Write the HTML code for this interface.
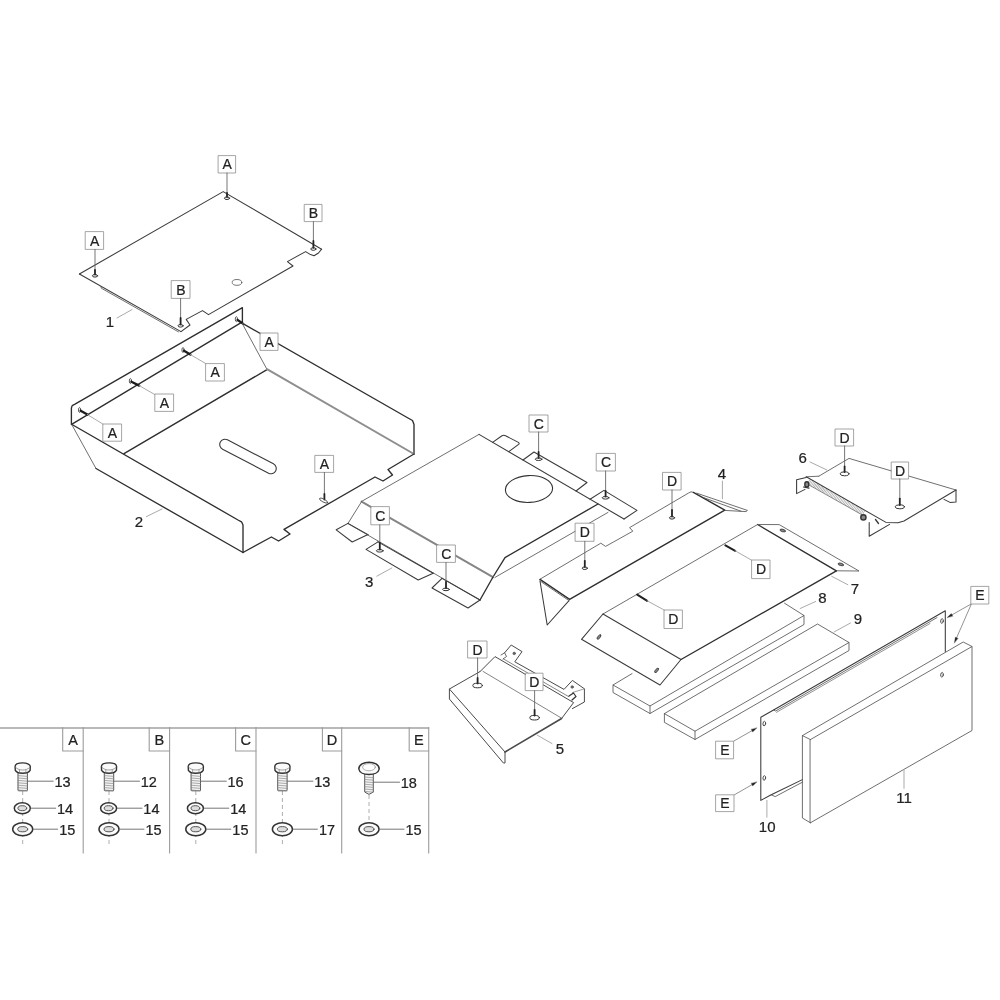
<!DOCTYPE html>
<html><head><meta charset="utf-8"><title>Parts diagram</title>
<style>
html,body{margin:0;padding:0;background:#fff;}
body{width:1000px;height:1000px;overflow:hidden;}
svg{display:block;filter:blur(0.35px);font-family:"Liberation Sans",sans-serif;fill:#222;}
svg text{fill:#222;stroke:#222;stroke-width:0.22px;}
</style></head><body>
<svg width="1000" height="1000" viewBox="0 0 1000 1000" stroke-linejoin="round" stroke-linecap="round">
<rect x="0" y="0" width="1000" height="1000" fill="#fff" stroke="none"/>
<path d="M79.4,274.0 L223.2,191.6 L321.6,249.2" fill="none" stroke="#3a3a3a" stroke-width="1.05" />
<path d="M321.6,249.2 L318.5,253.0 L314.0,255.8 L310.5,254.6 L305.6,251.6 L287.4,261.6 L293.0,266.0 L208.5,314.6 L202.5,310.6 L186.2,319.4 L190.0,325.0 L181.0,331.6" fill="none" stroke="#3a3a3a" stroke-width="1.05" />
<path d="M79.4,274.0 L181.0,331.6" fill="none" stroke="#3a3a3a" stroke-width="1.05" />
<path d="M101.0,286.4 L101.3,288.2 L178.5,331.9" fill="none" stroke="#555" stroke-width="0.85" />
<ellipse cx="237.0" cy="282.4" rx="4.8" ry="2.9" transform="rotate(0 237.0 282.4)" fill="none" stroke="#555" stroke-width="0.8"/>
<rect x="218.5" y="155.6" width="17.1" height="17.4" fill="#fff" stroke="#8e8e8e" stroke-width="0.8"/>
<text x="227.1" y="169.3" font-size="14" text-anchor="middle">A</text>
<path d="M227.0,173.0 L227.0,193.0" fill="none" stroke="#666" stroke-width="0.9" />
<path d="M227.0,193.0 L227.0,197.0" fill="none" stroke="#222" stroke-width="1.8" />
<ellipse cx="227.0" cy="198.2" rx="2.6" ry="1.3" transform="rotate(0 227.0 198.2)" fill="none" stroke="#333" stroke-width="1.0"/>
<rect x="85.6" y="231.6" width="18.0" height="17.8" fill="#fff" stroke="#8e8e8e" stroke-width="0.8"/>
<text x="94.6" y="245.5" font-size="14" text-anchor="middle">A</text>
<path d="M95.0,249.4 L95.0,270.0" fill="none" stroke="#666" stroke-width="0.9" />
<path d="M95.0,270.0 L95.0,274.6" fill="none" stroke="#222" stroke-width="1.8" />
<ellipse cx="95.0" cy="275.8" rx="2.6" ry="1.3" transform="rotate(0 95.0 275.8)" fill="none" stroke="#333" stroke-width="1.0"/>
<rect x="171.6" y="280.6" width="18.4" height="17.8" fill="#fff" stroke="#8e8e8e" stroke-width="0.8"/>
<text x="180.8" y="294.5" font-size="14" text-anchor="middle">B</text>
<path d="M180.6,298.4 L180.6,318.0" fill="none" stroke="#666" stroke-width="0.9" />
<path d="M180.6,318.0 L180.6,324.6" fill="none" stroke="#222" stroke-width="1.8" />
<ellipse cx="180.6" cy="325.8" rx="2.6" ry="1.3" transform="rotate(0 180.6 325.8)" fill="none" stroke="#333" stroke-width="1.0"/>
<rect x="304.6" y="204.4" width="17.4" height="17.2" fill="#fff" stroke="#8e8e8e" stroke-width="0.8"/>
<text x="313.3" y="218.0" font-size="14" text-anchor="middle">B</text>
<path d="M313.4,221.6 L313.4,241.0" fill="none" stroke="#666" stroke-width="0.9" />
<path d="M313.4,241.0 L313.4,247.8" fill="none" stroke="#222" stroke-width="1.8" />
<ellipse cx="313.4" cy="249.0" rx="2.6" ry="1.3" transform="rotate(0 313.4 249.0)" fill="none" stroke="#333" stroke-width="1.0"/>
<text x="110.0" y="327.4" font-size="15" text-anchor="middle">1</text>
<path d="M117.0,318.0 L132.0,309.6" fill="none" stroke="#ababab" stroke-width="1.0" />
<path d="M242.4,321.6 L242.4,307.6 L75.0,404.2 L72.2,405.6 L71.4,408.0 L71.4,424.5" fill="none" stroke="#2e2e2e" stroke-width="1.35" />
<path d="M242.4,321.8 L72.0,424.2" fill="none" stroke="#2e2e2e" stroke-width="1.35" />
<path d="M267.0,369.6 L124.0,453.6" fill="none" stroke="#2e2e2e" stroke-width="1.35" />
<path d="M72.0,424.5 L238.0,520.0 L241.5,521.8 L243.0,525.0 L243.0,552.5" fill="none" stroke="#2e2e2e" stroke-width="1.35" />
<path d="M72.0,425.0 L96.0,468.5" fill="none" stroke="#555" stroke-width="0.85" />
<path d="M96.0,468.5 L243.0,552.5" fill="none" stroke="#2e2e2e" stroke-width="1.35" />
<path d="M243.0,323.6 L408.0,418.0 L412.5,420.5 L414.0,424.5 L414.0,454.0" fill="none" stroke="#2e2e2e" stroke-width="1.35" />
<path d="M243.0,325.0 L267.0,369.4" fill="none" stroke="#555" stroke-width="0.85" />
<path d="M267.0,369.2 L414.0,454.0" fill="none" stroke="#8e8e8e" stroke-width="2.0" />
<path d="M414.0,454.0 L388.0,469.5 L392.5,475.0 L383.0,481.0 L375.0,477.0 L284.0,529.4 L290.0,534.0 L278.6,541.0 L271.4,537.0 L243.0,552.5" fill="none" stroke="#2e2e2e" stroke-width="1.35" />
<path d="M225,444.5 L271,468.5" stroke="#3a3a3a" stroke-width="11.6" stroke-linecap="round" fill="none"/>
<path d="M225,444.5 L271,468.5" stroke="#fff" stroke-width="9.4" stroke-linecap="round" fill="none"/>
<ellipse cx="236.4" cy="319.2" rx="1.1" ry="2.5" transform="rotate(0 236.4 319.2)" fill="none" stroke="#333" stroke-width="0.8"/>
<path d="M237.6,320.0 L243.0,323.6" fill="none" stroke="#1c1c1c" stroke-width="2.3" />
<path d="M243.0,323.6 L243.0,323.6" fill="none" stroke="#ababab" stroke-width="1.0" />
<ellipse cx="183.0" cy="350.0" rx="1.1" ry="2.5" transform="rotate(0 183.0 350.0)" fill="none" stroke="#333" stroke-width="0.8"/>
<path d="M184.0,350.8 L190.4,354.6" fill="none" stroke="#1c1c1c" stroke-width="2.3" />
<path d="M190.4,354.6 L206.5,364.0" fill="none" stroke="#ababab" stroke-width="1.0" />
<ellipse cx="130.4" cy="381.0" rx="1.1" ry="2.5" transform="rotate(0 130.4 381.0)" fill="none" stroke="#333" stroke-width="0.8"/>
<path d="M131.4,381.8 L139.2,385.6" fill="none" stroke="#1c1c1c" stroke-width="2.3" />
<path d="M139.2,385.6 L155.6,395.0" fill="none" stroke="#ababab" stroke-width="1.0" />
<ellipse cx="79.6" cy="410.0" rx="1.1" ry="2.5" transform="rotate(0 79.6 410.0)" fill="none" stroke="#333" stroke-width="0.8"/>
<path d="M80.6,410.8 L87.4,414.6" fill="none" stroke="#1c1c1c" stroke-width="2.3" />
<path d="M87.4,414.6 L103.8,424.6" fill="none" stroke="#ababab" stroke-width="1.0" />
<rect x="260.4" y="333.0" width="17.6" height="17.4" fill="#fff" stroke="#8e8e8e" stroke-width="0.8"/>
<text x="269.2" y="346.7" font-size="14" text-anchor="middle">A</text>
<rect x="206.0" y="363.6" width="18.4" height="17.4" fill="#fff" stroke="#8e8e8e" stroke-width="0.8"/>
<text x="215.2" y="377.3" font-size="14" text-anchor="middle">A</text>
<rect x="155.2" y="394.0" width="18.4" height="17.4" fill="#fff" stroke="#8e8e8e" stroke-width="0.8"/>
<text x="164.4" y="407.7" font-size="14" text-anchor="middle">A</text>
<rect x="103.2" y="424.0" width="18.4" height="17.2" fill="#fff" stroke="#8e8e8e" stroke-width="0.8"/>
<text x="112.4" y="437.6" font-size="14" text-anchor="middle">A</text>
<rect x="315.2" y="455.4" width="18.4" height="17.0" fill="#fff" stroke="#8e8e8e" stroke-width="0.8"/>
<text x="324.4" y="468.9" font-size="14" text-anchor="middle">A</text>
<path d="M324.4,472.4 L324.4,494.0" fill="none" stroke="#666" stroke-width="0.9" />
<path d="M324.4,494.0 L324.4,499.5" fill="none" stroke="#222" stroke-width="1.8" />
<ellipse cx="323.6" cy="500.6" rx="4.6" ry="1.5" transform="rotate(28 323.6 500.6)" fill="none" stroke="#444" stroke-width="0.8"/>
<text x="139.0" y="527.4" font-size="15" text-anchor="middle">2</text>
<path d="M146.4,516.6 L162.0,509.0" fill="none" stroke="#ababab" stroke-width="1.0" />
<path d="M361.6,501.4 L479.0,434.4" fill="none" stroke="#555" stroke-width="0.85" />
<path d="M479.0,434.4 L624.0,519.0" fill="none" stroke="#3a3a3a" stroke-width="1.05" />
<path d="M492.6,442.4 L501.6,436 Q503.6,434.8 505.6,435.8 L518.4,442.4 Q519.8,443.4 518.6,444.4 L508.8,451.6" fill="none" stroke="#3a3a3a" stroke-width="1.05"/>
<path d="M523.0,460.0 L534.0,452.0 L587.0,482.5 L576.0,491.0" fill="none" stroke="#3a3a3a" stroke-width="1.05" />
<path d="M590.0,499.2 L604.0,490.4 L637.0,510.4 L624.0,519.0" fill="none" stroke="#3a3a3a" stroke-width="1.05" />
<path d="M598.0,504.0 L505.0,557.6 L493.0,577.0" fill="none" stroke="#2e2e2e" stroke-width="1.35" />
<path d="M608.0,512.4 L495.0,577.4" fill="none" stroke="#555" stroke-width="0.85" />
<path d="M361.6,501.6 L493.0,577.2" fill="none" stroke="#858585" stroke-width="2.0" />
<path d="M361.6,501.6 L348.0,523.4" fill="none" stroke="#555" stroke-width="0.85" />
<path d="M493.0,577.0 L480.0,600.0" fill="none" stroke="#2e2e2e" stroke-width="1.35" />
<path d="M348.0,523.6 L480.0,600.0" fill="none" stroke="#555" stroke-width="0.85" />
<path d="M348.0,523.4 L336.2,529.8 L352.2,542.0 L368.0,534.6" fill="none" stroke="#3a3a3a" stroke-width="1.05" />
<path d="M348.0,523.4 L368.0,534.6" fill="none" stroke="#3a3a3a" stroke-width="1.05" />
<path d="M378.0,541.9 L366.0,549.4 L418.2,580.0 L433.2,573.3" fill="none" stroke="#3a3a3a" stroke-width="1.05" />
<path d="M378.0,541.9 L433.2,573.3" fill="none" stroke="#3a3a3a" stroke-width="1.05" />
<path d="M442.0,578.4 L432.0,588.0 L468.0,608.0 L480.0,600.0" fill="none" stroke="#3a3a3a" stroke-width="1.05" />
<path d="M442.0,578.4 L480.0,600.0" fill="none" stroke="#3a3a3a" stroke-width="1.05" />
<ellipse cx="529.0" cy="489.0" rx="23.6" ry="13.4" transform="rotate(-3 529.0 489.0)" fill="none" stroke="#333" stroke-width="1.1"/>
<rect x="371.2" y="506.6" width="18.2" height="18.2" fill="#fff" stroke="#8e8e8e" stroke-width="0.8"/>
<text x="380.3" y="520.7" font-size="14" text-anchor="middle">C</text>
<path d="M379.8,524.8 L379.8,542.8" fill="none" stroke="#666" stroke-width="0.9" />
<path d="M379.8,542.8 L379.8,549.6" fill="none" stroke="#222" stroke-width="1.8" />
<ellipse cx="379.8" cy="550.8" rx="3.4" ry="1.3" transform="rotate(0 379.8 550.8)" fill="none" stroke="#333" stroke-width="1.0"/>
<rect x="437.0" y="545.0" width="18.4" height="17.4" fill="#fff" stroke="#8e8e8e" stroke-width="0.8"/>
<text x="446.2" y="558.7" font-size="14" text-anchor="middle">C</text>
<path d="M446.0,562.4 L446.0,582.0" fill="none" stroke="#666" stroke-width="0.9" />
<path d="M446.0,582.0 L446.0,588.2" fill="none" stroke="#222" stroke-width="1.8" />
<ellipse cx="446.0" cy="589.4" rx="3.4" ry="1.3" transform="rotate(0 446.0 589.4)" fill="none" stroke="#333" stroke-width="1.0"/>
<rect x="529.4" y="415.0" width="18.6" height="17.0" fill="#fff" stroke="#8e8e8e" stroke-width="0.8"/>
<text x="538.7" y="428.5" font-size="14" text-anchor="middle">C</text>
<path d="M538.6,432.0 L538.6,452.0" fill="none" stroke="#666" stroke-width="0.9" />
<path d="M538.6,452.0 L538.6,458.0" fill="none" stroke="#222" stroke-width="1.8" />
<ellipse cx="538.6" cy="459.2" rx="3.4" ry="1.3" transform="rotate(0 538.6 459.2)" fill="none" stroke="#333" stroke-width="1.0"/>
<rect x="596.6" y="453.4" width="18.8" height="17.6" fill="#fff" stroke="#8e8e8e" stroke-width="0.8"/>
<text x="606.0" y="467.2" font-size="14" text-anchor="middle">C</text>
<path d="M605.6,471.0 L605.6,491.0" fill="none" stroke="#666" stroke-width="0.9" />
<path d="M605.6,491.0 L605.6,496.6" fill="none" stroke="#222" stroke-width="1.8" />
<ellipse cx="605.6" cy="497.8" rx="3.4" ry="1.3" transform="rotate(0 605.6 497.8)" fill="none" stroke="#333" stroke-width="1.0"/>
<text x="369.2" y="587.2" font-size="15" text-anchor="middle">3</text>
<path d="M376.8,576.2 L391.8,568.0" fill="none" stroke="#ababab" stroke-width="1.0" />
<path d="M540.0,579.2 L600.8,543.2 L605.6,546.4 L632.8,531.2 L629.6,527.6 L688.6,493.0 L691.0,491.8 L693.4,492.4" fill="none" stroke="#555" stroke-width="0.85" />
<path d="M693.4,492.4 L724.8,510.2 L569.6,599.4 L540.0,579.4" fill="none" stroke="#2e2e2e" stroke-width="1.35" />
<path d="M540.0,581.0 L547.2,625.0 L569.0,600.6" fill="none" stroke="#3a3a3a" stroke-width="1.05" />
<path d="M540.0,581.0 L569.0,600.6" fill="none" stroke="#555" stroke-width="0.85" />
<path d="M696.8,493.2 L747.4,510.4 L746.0,511.6 L724.8,510.4" fill="none" stroke="#555" stroke-width="0.85" />
<path d="M703.0,497.4 L741.0,511.2" fill="none" stroke="#555" stroke-width="0.85" />
<rect x="575.5" y="523.2" width="18.5" height="18.1" fill="#fff" stroke="#8e8e8e" stroke-width="0.8"/>
<text x="584.8" y="537.3" font-size="14" text-anchor="middle">D</text>
<path d="M584.8,541.3 L584.8,560.8" fill="none" stroke="#666" stroke-width="0.9" />
<path d="M584.8,560.8 L584.8,567.0" fill="none" stroke="#222" stroke-width="1.8" />
<ellipse cx="584.8" cy="568.2" rx="2.6" ry="1.3" transform="rotate(0 584.8 568.2)" fill="none" stroke="#333" stroke-width="1.0"/>
<rect x="662.9" y="472.4" width="18.2" height="17.6" fill="#fff" stroke="#8e8e8e" stroke-width="0.8"/>
<text x="672.0" y="486.2" font-size="14" text-anchor="middle">D</text>
<path d="M672.0,490.0 L672.0,510.0" fill="none" stroke="#666" stroke-width="0.9" />
<path d="M672.0,510.0 L672.0,516.6" fill="none" stroke="#222" stroke-width="1.8" />
<ellipse cx="672.0" cy="517.8" rx="2.6" ry="1.3" transform="rotate(0 672.0 517.8)" fill="none" stroke="#333" stroke-width="1.0"/>
<text x="722.0" y="479.4" font-size="15" text-anchor="middle">4</text>
<path d="M722.4,481.0 L722.4,498.8" fill="none" stroke="#ababab" stroke-width="1.0" />
<path d="M603.0,614.0 L757.6,524.5" fill="none" stroke="#555" stroke-width="0.85" />
<path d="M757.6,524.5 L836.4,570.8" fill="none" stroke="#2e2e2e" stroke-width="1.35" />
<path d="M836.4,570.8 L681.0,659.5" fill="none" stroke="#2e2e2e" stroke-width="1.35" />
<path d="M603.0,614.0 L681.0,659.5" fill="none" stroke="#3a3a3a" stroke-width="1.05" />
<path d="M603.0,614.0 L581.5,639.3 L660.0,685.0 L681.0,659.5" fill="none" stroke="#3a3a3a" stroke-width="1.05" />
<path d="M757.6,524.5 L779.2,524.6 L859.0,571.0 L836.4,570.8" fill="none" stroke="#555" stroke-width="0.85" />
<ellipse cx="599.0" cy="637.0" rx="2.7" ry="1.2" transform="rotate(-50 599.0 637.0)" fill="#888" stroke="#444" stroke-width="0.9"/>
<ellipse cx="656.6" cy="670.4" rx="2.7" ry="1.2" transform="rotate(-50 656.6 670.4)" fill="#888" stroke="#444" stroke-width="0.9"/>
<ellipse cx="782.7" cy="530.5" rx="2.8" ry="1.2" transform="rotate(15 782.7 530.5)" fill="#888" stroke="#444" stroke-width="0.9"/>
<ellipse cx="840.8" cy="564.4" rx="2.8" ry="1.2" transform="rotate(15 840.8 564.4)" fill="#888" stroke="#444" stroke-width="0.9"/>
<path d="M725.4,545.4 L735.2,550.8" fill="none" stroke="#222" stroke-width="2.1" />
<path d="M735.2,550.8 L752.0,560.4" fill="none" stroke="#ababab" stroke-width="1.0" />
<path d="M637.2,594.6 L647.2,600.8" fill="none" stroke="#222" stroke-width="2.1" />
<path d="M647.2,600.8 L664.8,610.4" fill="none" stroke="#ababab" stroke-width="1.0" />
<rect x="752.0" y="560.0" width="18.0" height="18.6" fill="#fff" stroke="#8e8e8e" stroke-width="0.8"/>
<text x="761.0" y="574.3" font-size="14" text-anchor="middle">D</text>
<rect x="664.4" y="610.0" width="18.0" height="18.5" fill="#fff" stroke="#8e8e8e" stroke-width="0.8"/>
<text x="673.4" y="624.3" font-size="14" text-anchor="middle">D</text>
<text x="855.0" y="594.4" font-size="15" text-anchor="middle">7</text>
<path d="M831.7,576.3 L847.8,584.7" fill="none" stroke="#ababab" stroke-width="1.0" />
<path d="M632.0,673.6 L613.0,685.0 L650.0,706.0 L804.0,615.5 L784.5,603.2" fill="none" stroke="#555" stroke-width="0.85" />
<path d="M613.0,685.0 L613.0,692.5 L650.0,713.5 L804.0,624.5 L804.0,615.5" fill="none" stroke="#555" stroke-width="0.85" />
<path d="M650.0,706.0 L650.0,713.5" fill="none" stroke="#555" stroke-width="0.85" />
<text x="822.3" y="603.1" font-size="15" text-anchor="middle">8</text>
<path d="M800.2,608.5 L815.6,601.5" fill="none" stroke="#ababab" stroke-width="1.0" />
<path d="M664.4,713.6 L695.0,731.2 L849.0,642.5 L817.5,624.0 L664.4,713.6" fill="none" stroke="#555" stroke-width="0.85" />
<path d="M664.4,713.6 L664.4,722.4 L695.0,739.5 L849.0,650.5 L849.0,642.5" fill="none" stroke="#555" stroke-width="0.85" />
<path d="M695.0,731.2 L695.0,739.5" fill="none" stroke="#555" stroke-width="0.85" />
<text x="858.0" y="624.2" font-size="15" text-anchor="middle">9</text>
<path d="M834.0,632.0 L850.5,623.0" fill="none" stroke="#ababab" stroke-width="1.0" />
<path d="M802.4,779.6 L772.8,794.0 L771.2,794.8 L760.8,800.4 L760.8,717.2 L773.6,710.0 L945.3,610.8 L945.3,651.6" fill="none" stroke="#3a3a3a" stroke-width="1.05" />
<path d="M773.6,710.0 L775.6,711.0 L937.0,617.6" fill="none" stroke="#555" stroke-width="0.85" />
<path d="M776.5,712.3 L930.0,623.5" fill="none" stroke="#777" stroke-width="0.8" />
<path d="M771.2,794.8 L775.2,796.6 L802.4,782.2" fill="none" stroke="#555" stroke-width="0.85" />
<ellipse cx="764.3" cy="723.6" rx="1.3" ry="2.3" transform="rotate(8 764.3 723.6)" fill="none" stroke="#444" stroke-width="0.9"/>
<ellipse cx="764.3" cy="778.0" rx="1.3" ry="2.3" transform="rotate(8 764.3 778.0)" fill="none" stroke="#444" stroke-width="0.9"/>
<ellipse cx="942.0" cy="621.0" rx="1.3" ry="2.3" transform="rotate(8 942.0 621.0)" fill="none" stroke="#444" stroke-width="0.9"/>
<ellipse cx="942.0" cy="674.8" rx="1.3" ry="2.3" transform="rotate(8 942.0 674.8)" fill="none" stroke="#444" stroke-width="0.9"/>
<text x="767.2" y="832.2" font-size="15" text-anchor="middle">10</text>
<path d="M766.9,800.4 L766.9,817.2" fill="none" stroke="#ababab" stroke-width="1.0" />
<path d="M810.4,739.6 L972.0,646.5 L972.0,730.5 L810.4,822.8 Z" fill="none" stroke="#555" stroke-width="0.85" />
<path d="M810.4,739.6 L802.4,735.6 L802.4,818.0 L810.4,822.8" fill="none" stroke="#555" stroke-width="0.85" />
<path d="M802.4,735.6 L963.2,642.0 L972.0,646.5" fill="none" stroke="#555" stroke-width="0.85" />
<text x="904.0" y="803.4" font-size="15" text-anchor="middle">11</text>
<path d="M904.0,769.5 L904.0,788.4" fill="none" stroke="#ababab" stroke-width="1.0" />
<path d="M971.2,604.0 L952.0,614.8" fill="none" stroke="#777" stroke-width="0.8" />
<path d="M947.2,617.5 L951.3,613.6 L952.7,616.0 Z" fill="#222" stroke="#222" stroke-width="0.3" />
<path d="M971.2,604.4 L956.6,637.8" fill="none" stroke="#777" stroke-width="0.8" />
<path d="M954.4,642.8 L955.3,637.2 L957.9,638.3 Z" fill="#222" stroke="#222" stroke-width="0.3" />
<rect x="971.2" y="586.4" width="17.6" height="17.6" fill="#fff" stroke="#8e8e8e" stroke-width="0.8"/>
<text x="980.0" y="600.2" font-size="14" text-anchor="middle">E</text>
<path d="M733.6,741.2 L752.0,730.7" fill="none" stroke="#777" stroke-width="0.8" />
<path d="M756.8,728.0 L752.7,731.9 L751.3,729.5 Z" fill="#222" stroke="#222" stroke-width="0.3" />
<path d="M734.4,794.8 L752.0,784.7" fill="none" stroke="#777" stroke-width="0.8" />
<path d="M756.8,782.0 L752.7,785.9 L751.3,783.5 Z" fill="#222" stroke="#222" stroke-width="0.3" />
<rect x="716.0" y="741.2" width="17.6" height="17.6" fill="#fff" stroke="#8e8e8e" stroke-width="0.8"/>
<text x="724.8" y="755.0" font-size="14" text-anchor="middle">E</text>
<rect x="716.0" y="794.8" width="18.0" height="16.8" fill="#fff" stroke="#8e8e8e" stroke-width="0.8"/>
<text x="725.0" y="808.2" font-size="14" text-anchor="middle">E</text>
<path d="M480.0,671.6 L449.4,689.0 L505.0,752.0" fill="none" stroke="#4a4a4a" stroke-width="1.0" />
<path d="M505.0,752.0 L561.6,718.5" fill="none" stroke="#4a4a4a" stroke-width="1.6" />
<path d="M480.0,671.6 L495.0,656.6 L573.6,702.6 L561.6,718.5" fill="none" stroke="#4a4a4a" stroke-width="1.0" />
<path d="M483.0,671.4 L561.6,718.2" fill="none" stroke="#666" stroke-width="0.8" />
<path d="M449.4,689.0 L449.4,699.0 L503.4,763.0 L505.0,763.0 L505.0,752.0" fill="none" stroke="#4a4a4a" stroke-width="1.0" />
<path d="M504.6,652.8 L511.2,645.0 L522.0,651.6 L514.8,661.8 L564.0,689.4 L572.4,680.4 L584.4,688.8 L584.4,702.0 L572.4,708.6" fill="none" stroke="#4a4a4a" stroke-width="1.0" />
<path d="M503.4,658.9 L568.8,696.7" fill="none" stroke="#666" stroke-width="0.8" />
<path d="M572.4,692.6 L584.4,688.8" fill="none" stroke="#777" stroke-width="0.7" />
<path d="M501.0,655.0 L504.6,652.8 L506.5,656.5 L503.0,659.0" fill="none" stroke="#444" stroke-width="0.8" />
<path d="M569.0,696.0 L573.5,693.0 L576.0,696.5 L572.0,700.0" fill="none" stroke="#333" stroke-width="1.2" />
<ellipse cx="514.2" cy="653.4" rx="1.3" ry="1.3" transform="rotate(0 514.2 653.4)" fill="#666" stroke="#555" stroke-width="0.6"/>
<ellipse cx="572.2" cy="687.0" rx="1.3" ry="1.3" transform="rotate(0 572.2 687.0)" fill="#666" stroke="#555" stroke-width="0.6"/>
<rect x="468.0" y="641.0" width="19.0" height="17.0" fill="#fff" stroke="#8e8e8e" stroke-width="0.8"/>
<text x="477.5" y="654.5" font-size="14" text-anchor="middle">D</text>
<path d="M477.6,658.0 L477.6,678.0" fill="none" stroke="#666" stroke-width="0.9" />
<path d="M477.6,678.0 L477.6,683.4" fill="none" stroke="#222" stroke-width="1.8" />
<ellipse cx="477.6" cy="685.5" rx="4.8" ry="2.3" transform="rotate(0 477.6 685.5)" fill="none" stroke="#333" stroke-width="1.0"/>
<rect x="525.6" y="673.2" width="17.4" height="17.4" fill="#fff" stroke="#8e8e8e" stroke-width="0.8"/>
<text x="534.3" y="686.9" font-size="14" text-anchor="middle">D</text>
<path d="M534.6,690.6 L534.6,709.8" fill="none" stroke="#666" stroke-width="0.9" />
<path d="M534.6,709.8 L534.6,715.6" fill="none" stroke="#222" stroke-width="1.8" />
<ellipse cx="534.6" cy="717.7" rx="4.8" ry="2.3" transform="rotate(0 534.6 717.7)" fill="none" stroke="#333" stroke-width="1.0"/>
<text x="560.0" y="754.4" font-size="15" text-anchor="middle">5</text>
<path d="M537.0,735.0 L552.0,743.6" fill="none" stroke="#ababab" stroke-width="1.0" />
<path d="M818.8,476.2 L849.0,458.4 L956.0,490.0" fill="none" stroke="#555" stroke-width="0.85" />
<path d="M956.0,490.0 L904.0,521.0 L898.0,522.8 L886.0,522.4 L806.2,476.8" fill="none" stroke="#3a3a3a" stroke-width="1.05" />
<path d="M806.2,476.8 L818.8,476.2" fill="none" stroke="#555" stroke-width="0.85" />
<path d="M956.0,490.0 L956.0,502.0 L950.0,502.4 L944.0,499.4" fill="none" stroke="#3a3a3a" stroke-width="1.05" />
<path d="M869.2,522.4 L869.2,536.2 L889.6,524.4" fill="none" stroke="#3a3a3a" stroke-width="1.05" />
<path d="M806.2,477.4 L796.6,479.8 L796.6,493.6 L805.0,489.4" fill="none" stroke="#3a3a3a" stroke-width="1.05" />
<path d="M808.5,481.4 L864.5,513.4" fill="none" stroke="#999" stroke-width="4.6" stroke-dasharray="0.6 0.9" stroke-linecap="butt"/>
<path d="M808.0,484.4 L862.0,514.8" fill="none" stroke="#666" stroke-width="0.8" />
<ellipse cx="806.8" cy="484.4" rx="2.0" ry="2.6" transform="rotate(0 806.8 484.4)" fill="#888" stroke="#333" stroke-width="1.4"/>
<ellipse cx="863.4" cy="517.4" rx="2.6" ry="2.6" transform="rotate(0 863.4 517.4)" fill="#888" stroke="#333" stroke-width="1.4"/>
<path d="M803.5,487.0 L809.0,488.2" fill="none" stroke="#333" stroke-width="1.2" />
<path d="M875.5,519.5 L878.5,523.5" fill="none" stroke="#333" stroke-width="1.3" />
<rect x="835.4" y="429.0" width="18.2" height="17.0" fill="#fff" stroke="#8e8e8e" stroke-width="0.8"/>
<text x="844.5" y="442.5" font-size="14" text-anchor="middle">D</text>
<path d="M844.6,446.0 L844.6,466.4" fill="none" stroke="#666" stroke-width="0.9" />
<path d="M844.6,466.4 L844.6,472.0" fill="none" stroke="#222" stroke-width="1.8" />
<ellipse cx="844.6" cy="473.8" rx="4.4" ry="2.0" transform="rotate(0 844.6 473.8)" fill="none" stroke="#333" stroke-width="1.0"/>
<rect x="891.6" y="462.0" width="17.0" height="17.0" fill="#fff" stroke="#8e8e8e" stroke-width="0.8"/>
<text x="900.1" y="475.5" font-size="14" text-anchor="middle">D</text>
<path d="M899.8,479.0 L899.8,498.6" fill="none" stroke="#666" stroke-width="0.9" />
<path d="M899.8,498.6 L899.8,505.0" fill="none" stroke="#222" stroke-width="1.8" />
<ellipse cx="899.8" cy="506.8" rx="4.6" ry="2.0" transform="rotate(0 899.8 506.8)" fill="none" stroke="#333" stroke-width="1.0"/>
<text x="802.6" y="463.4" font-size="15" text-anchor="middle">6</text>
<path d="M810.0,462.0 L827.0,470.0" fill="none" stroke="#ababab" stroke-width="1.0" />
<path d="M0.0,727.9 L428.7,727.9" fill="none" stroke="#a2a2a2" stroke-width="1.5" />
<path d="M83.2,727.5 L83.2,853.0" fill="none" stroke="#9c9c9c" stroke-width="1.1" />
<path d="M169.6,727.5 L169.6,853.0" fill="none" stroke="#9c9c9c" stroke-width="1.1" />
<path d="M256.0,727.5 L256.0,853.0" fill="none" stroke="#9c9c9c" stroke-width="1.1" />
<path d="M341.7,727.5 L341.7,853.0" fill="none" stroke="#9c9c9c" stroke-width="1.1" />
<path d="M428.7,727.5 L428.7,853.0" fill="none" stroke="#9c9c9c" stroke-width="1.1" />
<path d="M62.7,727.5 L62.7,751.0 L83.2,751.0" fill="none" stroke="#9c9c9c" stroke-width="1.1" />
<text x="73.0" y="744.8" font-size="14.5" text-anchor="middle">A</text>
<path d="M149.2,727.5 L149.2,751.0 L169.6,751.0" fill="none" stroke="#9c9c9c" stroke-width="1.1" />
<text x="159.4" y="744.8" font-size="14.5" text-anchor="middle">B</text>
<path d="M235.6,727.5 L235.6,751.0 L256.0,751.0" fill="none" stroke="#9c9c9c" stroke-width="1.1" />
<text x="245.8" y="744.8" font-size="14.5" text-anchor="middle">C</text>
<path d="M322.4,727.5 L322.4,751.0 L341.7,751.0" fill="none" stroke="#9c9c9c" stroke-width="1.1" />
<text x="332.0" y="744.8" font-size="14.5" text-anchor="middle">D</text>
<path d="M409.2,727.5 L409.2,751.0 L428.7,751.0" fill="none" stroke="#9c9c9c" stroke-width="1.1" />
<text x="418.9" y="744.8" font-size="14.5" text-anchor="middle">E</text>
<path d="M22.7,791.0 L22.7,845.0" fill="none" stroke="#999" stroke-width="0.8" stroke-dasharray="4 3" stroke-linecap="butt"/>
<rect x="18.0" y="772.6" width="9.4" height="18.2" rx="0.8" fill="#f4f4f4" stroke="#555" stroke-width="1.0"/>
<path d="M18.0,775.6 L27.4,776.4" fill="none" stroke="#888" stroke-width="0.7" />
<path d="M18.0,778.0 L27.4,778.8" fill="none" stroke="#888" stroke-width="0.7" />
<path d="M18.0,780.4 L27.4,781.2" fill="none" stroke="#888" stroke-width="0.7" />
<path d="M18.0,782.8 L27.4,783.6" fill="none" stroke="#888" stroke-width="0.7" />
<path d="M18.0,785.2 L27.4,786.0" fill="none" stroke="#888" stroke-width="0.7" />
<path d="M18.0,787.6 L27.4,788.4" fill="none" stroke="#888" stroke-width="0.7" />
<path d="M18.0,790.0 L27.4,790.8" fill="none" stroke="#888" stroke-width="0.7" />
<path d="M15.1,766.6 C15.1,761.6 30.3,761.6 30.3,766.6 L30.1,770.4 C27.7,774.2 17.7,774.2 15.3,770.4 Z" fill="#fafafa" stroke="#333" stroke-width="1.4"/>
<path d="M15.7,767.4 C18.7,771 26.7,771 29.7,767.4" fill="none" stroke="#888" stroke-width="0.8"/>
<path d="M19.5,770.2 L19.5,773.0" fill="none" stroke="#777" stroke-width="0.7" />
<path d="M25.9,770.2 L25.9,773.0" fill="none" stroke="#777" stroke-width="0.7" />
<path d="M27.7,781.2 L53.2,781.2" fill="none" stroke="#666" stroke-width="0.9" />
<text x="62.5" y="786.8" font-size="14.5" text-anchor="middle">13</text>
<ellipse cx="22.3" cy="808.2" rx="8.0" ry="5.5" transform="rotate(0 22.3 808.2)" fill="#fbfbfb" stroke="#333" stroke-width="1.5"/>
<ellipse cx="22.3" cy="808.2" rx="4.4" ry="2.5" transform="rotate(0 22.3 808.2)" fill="#ddd" stroke="#555" stroke-width="1.0"/>
<path d="M31.1,808.2 L55.7,808.2" fill="none" stroke="#666" stroke-width="0.9" />
<text x="65.1" y="813.8" font-size="14.5" text-anchor="middle">14</text>
<ellipse cx="22.7" cy="829.2" rx="10.0" ry="6.5" transform="rotate(0 22.7 829.2)" fill="#fbfbfb" stroke="#333" stroke-width="1.5"/>
<ellipse cx="22.7" cy="829.2" rx="5.0" ry="2.6" transform="rotate(0 22.7 829.2)" fill="#ddd" stroke="#555" stroke-width="1.0"/>
<path d="M33.5,829.2 L57.7,829.2" fill="none" stroke="#666" stroke-width="0.9" />
<text x="67.3" y="835.0" font-size="14.5" text-anchor="middle">15</text>
<path d="M109.0,791.0 L109.0,845.0" fill="none" stroke="#999" stroke-width="0.8" stroke-dasharray="4 3" stroke-linecap="butt"/>
<rect x="104.3" y="772.6" width="9.4" height="18.2" rx="0.8" fill="#f4f4f4" stroke="#555" stroke-width="1.0"/>
<path d="M104.3,775.6 L113.7,776.4" fill="none" stroke="#888" stroke-width="0.7" />
<path d="M104.3,778.0 L113.7,778.8" fill="none" stroke="#888" stroke-width="0.7" />
<path d="M104.3,780.4 L113.7,781.2" fill="none" stroke="#888" stroke-width="0.7" />
<path d="M104.3,782.8 L113.7,783.6" fill="none" stroke="#888" stroke-width="0.7" />
<path d="M104.3,785.2 L113.7,786.0" fill="none" stroke="#888" stroke-width="0.7" />
<path d="M104.3,787.6 L113.7,788.4" fill="none" stroke="#888" stroke-width="0.7" />
<path d="M104.3,790.0 L113.7,790.8" fill="none" stroke="#888" stroke-width="0.7" />
<path d="M101.4,766.6 C101.4,761.6 116.6,761.6 116.6,766.6 L116.4,770.4 C114.0,774.2 104.0,774.2 101.6,770.4 Z" fill="#fafafa" stroke="#333" stroke-width="1.4"/>
<path d="M102.0,767.4 C105.0,771 113.0,771 116.0,767.4" fill="none" stroke="#888" stroke-width="0.8"/>
<path d="M105.8,770.2 L105.8,773.0" fill="none" stroke="#777" stroke-width="0.7" />
<path d="M112.2,770.2 L112.2,773.0" fill="none" stroke="#777" stroke-width="0.7" />
<path d="M114.0,781.2 L139.5,781.2" fill="none" stroke="#666" stroke-width="0.9" />
<text x="148.8" y="786.8" font-size="14.5" text-anchor="middle">12</text>
<ellipse cx="108.6" cy="808.2" rx="8.0" ry="5.5" transform="rotate(0 108.6 808.2)" fill="#fbfbfb" stroke="#333" stroke-width="1.5"/>
<ellipse cx="108.6" cy="808.2" rx="4.4" ry="2.5" transform="rotate(0 108.6 808.2)" fill="#ddd" stroke="#555" stroke-width="1.0"/>
<path d="M117.4,808.2 L142.0,808.2" fill="none" stroke="#666" stroke-width="0.9" />
<text x="151.4" y="813.8" font-size="14.5" text-anchor="middle">14</text>
<ellipse cx="109.0" cy="829.2" rx="10.0" ry="6.5" transform="rotate(0 109.0 829.2)" fill="#fbfbfb" stroke="#333" stroke-width="1.5"/>
<ellipse cx="109.0" cy="829.2" rx="5.0" ry="2.6" transform="rotate(0 109.0 829.2)" fill="#ddd" stroke="#555" stroke-width="1.0"/>
<path d="M119.8,829.2 L144.0,829.2" fill="none" stroke="#666" stroke-width="0.9" />
<text x="153.6" y="835.0" font-size="14.5" text-anchor="middle">15</text>
<path d="M195.8,791.0 L195.8,845.0" fill="none" stroke="#999" stroke-width="0.8" stroke-dasharray="4 3" stroke-linecap="butt"/>
<rect x="191.1" y="772.6" width="9.4" height="18.2" rx="0.8" fill="#f4f4f4" stroke="#555" stroke-width="1.0"/>
<path d="M191.1,775.6 L200.5,776.4" fill="none" stroke="#888" stroke-width="0.7" />
<path d="M191.1,778.0 L200.5,778.8" fill="none" stroke="#888" stroke-width="0.7" />
<path d="M191.1,780.4 L200.5,781.2" fill="none" stroke="#888" stroke-width="0.7" />
<path d="M191.1,782.8 L200.5,783.6" fill="none" stroke="#888" stroke-width="0.7" />
<path d="M191.1,785.2 L200.5,786.0" fill="none" stroke="#888" stroke-width="0.7" />
<path d="M191.1,787.6 L200.5,788.4" fill="none" stroke="#888" stroke-width="0.7" />
<path d="M191.1,790.0 L200.5,790.8" fill="none" stroke="#888" stroke-width="0.7" />
<path d="M188.2,766.6 C188.2,761.6 203.4,761.6 203.4,766.6 L203.2,770.4 C200.8,774.2 190.8,774.2 188.4,770.4 Z" fill="#fafafa" stroke="#333" stroke-width="1.4"/>
<path d="M188.8,767.4 C191.8,771 199.8,771 202.8,767.4" fill="none" stroke="#888" stroke-width="0.8"/>
<path d="M192.6,770.2 L192.6,773.0" fill="none" stroke="#777" stroke-width="0.7" />
<path d="M199.0,770.2 L199.0,773.0" fill="none" stroke="#777" stroke-width="0.7" />
<path d="M200.8,781.2 L226.3,781.2" fill="none" stroke="#666" stroke-width="0.9" />
<text x="235.6" y="786.8" font-size="14.5" text-anchor="middle">16</text>
<ellipse cx="195.4" cy="808.2" rx="8.0" ry="5.5" transform="rotate(0 195.4 808.2)" fill="#fbfbfb" stroke="#333" stroke-width="1.5"/>
<ellipse cx="195.4" cy="808.2" rx="4.4" ry="2.5" transform="rotate(0 195.4 808.2)" fill="#ddd" stroke="#555" stroke-width="1.0"/>
<path d="M204.2,808.2 L228.8,808.2" fill="none" stroke="#666" stroke-width="0.9" />
<text x="238.2" y="813.8" font-size="14.5" text-anchor="middle">14</text>
<ellipse cx="195.8" cy="829.2" rx="10.0" ry="6.5" transform="rotate(0 195.8 829.2)" fill="#fbfbfb" stroke="#333" stroke-width="1.5"/>
<ellipse cx="195.8" cy="829.2" rx="5.0" ry="2.6" transform="rotate(0 195.8 829.2)" fill="#ddd" stroke="#555" stroke-width="1.0"/>
<path d="M206.6,829.2 L230.8,829.2" fill="none" stroke="#666" stroke-width="0.9" />
<text x="240.4" y="835.0" font-size="14.5" text-anchor="middle">15</text>
<path d="M282.4,791.0 L282.4,845.0" fill="none" stroke="#999" stroke-width="0.8" stroke-dasharray="4 3" stroke-linecap="butt"/>
<rect x="277.7" y="772.6" width="9.4" height="18.2" rx="0.8" fill="#f4f4f4" stroke="#555" stroke-width="1.0"/>
<path d="M277.7,775.6 L287.1,776.4" fill="none" stroke="#888" stroke-width="0.7" />
<path d="M277.7,778.0 L287.1,778.8" fill="none" stroke="#888" stroke-width="0.7" />
<path d="M277.7,780.4 L287.1,781.2" fill="none" stroke="#888" stroke-width="0.7" />
<path d="M277.7,782.8 L287.1,783.6" fill="none" stroke="#888" stroke-width="0.7" />
<path d="M277.7,785.2 L287.1,786.0" fill="none" stroke="#888" stroke-width="0.7" />
<path d="M277.7,787.6 L287.1,788.4" fill="none" stroke="#888" stroke-width="0.7" />
<path d="M277.7,790.0 L287.1,790.8" fill="none" stroke="#888" stroke-width="0.7" />
<path d="M274.8,766.6 C274.8,761.6 290.0,761.6 290.0,766.6 L289.8,770.4 C287.4,774.2 277.4,774.2 275.0,770.4 Z" fill="#fafafa" stroke="#333" stroke-width="1.4"/>
<path d="M275.4,767.4 C278.4,771 286.4,771 289.4,767.4" fill="none" stroke="#888" stroke-width="0.8"/>
<path d="M279.2,770.2 L279.2,773.0" fill="none" stroke="#777" stroke-width="0.7" />
<path d="M285.6,770.2 L285.6,773.0" fill="none" stroke="#777" stroke-width="0.7" />
<path d="M287.4,781.2 L312.9,781.2" fill="none" stroke="#666" stroke-width="0.9" />
<text x="322.2" y="786.8" font-size="14.5" text-anchor="middle">13</text>
<ellipse cx="282.4" cy="829.2" rx="10.0" ry="6.5" transform="rotate(0 282.4 829.2)" fill="#fbfbfb" stroke="#333" stroke-width="1.5"/>
<ellipse cx="282.4" cy="829.2" rx="5.0" ry="2.6" transform="rotate(0 282.4 829.2)" fill="#ddd" stroke="#555" stroke-width="1.0"/>
<path d="M293.2,829.2 L317.4,829.2" fill="none" stroke="#666" stroke-width="0.9" />
<text x="327.0" y="835.0" font-size="14.5" text-anchor="middle">17</text>
<path d="M369.0,795.0 L369.0,836.0" fill="none" stroke="#999" stroke-width="0.8" stroke-dasharray="4 3" stroke-linecap="butt"/>
<path d="M364.7,774.0 L364.7,792.0 L369.0,794.4 L373.3,792.0 L373.3,774.0 Z" fill="#f4f4f4" stroke="#555" stroke-width="1.0"/>
<path d="M364.7,777.0 L373.3,777.8" fill="none" stroke="#888" stroke-width="0.7" />
<path d="M364.7,779.4 L373.3,780.2" fill="none" stroke="#888" stroke-width="0.7" />
<path d="M364.7,781.8 L373.3,782.6" fill="none" stroke="#888" stroke-width="0.7" />
<path d="M364.7,784.2 L373.3,785.0" fill="none" stroke="#888" stroke-width="0.7" />
<path d="M364.7,786.6 L373.3,787.4" fill="none" stroke="#888" stroke-width="0.7" />
<path d="M364.7,789.0 L373.3,789.8" fill="none" stroke="#888" stroke-width="0.7" />
<path d="M364.7,791.4 L373.3,792.2" fill="none" stroke="#888" stroke-width="0.7" />
<path d="M358.8,769 C358.8,760 379.2,760 379.2,769 C378.0,776.4 360.0,776.4 358.8,769 Z" fill="#fafafa" stroke="#333" stroke-width="1.5"/>
<ellipse cx="369.0" cy="767.2" rx="6.4" ry="3.6" transform="rotate(0 369.0 767.2)" fill="#fff" stroke="#999" stroke-width="0.8"/>
<path d="M374.0,782.2 L399.5,782.2" fill="none" stroke="#666" stroke-width="0.9" />
<text x="408.8" y="788.2" font-size="14.5" text-anchor="middle">18</text>
<ellipse cx="369.0" cy="829.2" rx="10.0" ry="6.5" transform="rotate(0 369.0 829.2)" fill="#fbfbfb" stroke="#333" stroke-width="1.5"/>
<ellipse cx="369.0" cy="829.2" rx="5.0" ry="2.6" transform="rotate(0 369.0 829.2)" fill="#ddd" stroke="#555" stroke-width="1.0"/>
<path d="M379.8,829.2 L404.0,829.2" fill="none" stroke="#666" stroke-width="0.9" />
<text x="413.6" y="835.0" font-size="14.5" text-anchor="middle">15</text>
</svg>
</body></html>
